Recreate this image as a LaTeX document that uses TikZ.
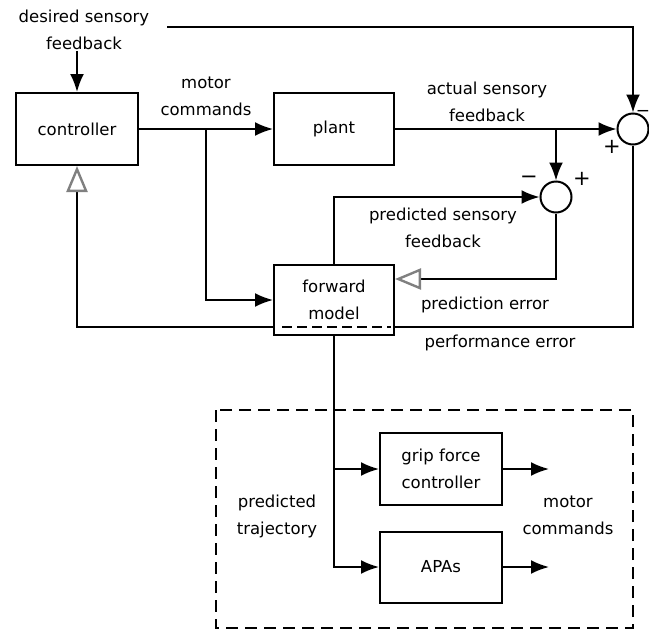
\documentclass[tikz,border=0pt]{standalone}
\usepackage{fontspec}
\setmainfont{DejaVu Sans}
\usetikzlibrary{arrows.meta}

\begin{document}
\begin{tikzpicture}[x=1pt,y=-1pt,line width=2pt,
    font=\fontsize{16.5}{27}\selectfont,
    block/.style={draw,align=center,minimum width=122pt,minimum height=72pt,inner sep=0pt},
    sum/.style={draw,circle,minimum size=31pt,inner sep=0pt},
    lbl/.style={align=center,inner sep=0pt},
    sgn/.style={inner sep=0pt,font=\fontsize{21}{21}\selectfont},
    sig/.style={-{Latex[length=18pt,width=14pt]}},
    err/.style={-{Triangle[open,length=26pt,width=21pt,color=gray,line width=2.4pt]}}]
  \useasboundingbox (0,0) rectangle (649,630);

  % Blocks
  \node[block] (ctrl) at (77,129) {controller};
  \node[block,minimum width=120pt] (plant) at (334,129) {plant};
  \node[block,minimum width=120pt,minimum height=70pt] (fwd) at (334,300) {forward\\model};
  \node[sum] (sumA) at (633,129) {};
  \node[sum] (sumB) at (556,197) {};

  % Helper points
  \coordinate (split) at (206,129);
  \coordinate (tap) at (556,129);
  \coordinate (dstart) at (167,27);
  \path (fwd.east) ++(0,-21) coordinate (prin);
  \path (fwd.east) ++(0,27) coordinate (pein);
  \path (fwd.west) ++(0,27) coordinate (peout);

  % Labels
  \node[lbl] (desired) at (84,30) {desired sensory\\feedback};
  \node[lbl] (mc) at (206,96) {motor\\commands};
  \node[lbl] (actual) at (487,102) {actual sensory\\feedback};
  \node[lbl] (predsf) at (443,228) {predicted sensory\\feedback};
  \node[lbl] (prederr) at (485,305) {prediction error};
  \node[lbl] (perferr) at (500,343) {performance error};
  \node[sgn] (mB) at (529,180) {−};
  \node[sgn] (pB) at (582,179) {+};
  \node[sgn] (pA) at (612,147) {+};
  \node[sgn,font=\fontsize{17}{17}\selectfont] (mA) at (643,113) {−};

  % Main loop
  \draw[sig] (ctrl.north |- desired.south) -- (ctrl.north);
  \draw[sig] (ctrl.east) -- (plant.west);
  \draw[sig] (split) |- (fwd.west);
  \draw[sig] (plant.east) -- (sumA.west);
  \draw[sig] (dstart) -| (sumA.north);
  \draw[sig] (tap) -- (sumB.north);
  \draw[sig] (fwd.north) |- (sumB.west);

  % Error signals
  \draw[err] (sumB.south) |- (prin);
  \draw (sumA.south) |- (pein);
  \draw[err] (peout) -| (ctrl.south);
  \draw[dash pattern=on 10pt off 5pt] ([xshift=9pt]peout) -- ([xshift=-4pt]pein);

  % Predicted trajectory
  \draw[dash pattern=on 12pt off 7pt] (216,410) rectangle (633,628);
  \node[block] (grip) at (441,469) {grip force\\controller};
  \node[block,minimum height=71pt] (apas) at (441,567) {APAs};
  \coordinate (gout) at (549,469);
  \coordinate (aout) at (549,567);
  \draw[sig] (fwd.south) |- (grip.west);
  \draw[sig] (fwd.south) |- (apas.west);
  \draw[sig] (grip.east) -- (gout);
  \draw[sig] (apas.east) -- (aout);
  \node[lbl] (ptraj) at (277,516) {predicted\\trajectory};
  \node[lbl] (mc2) at (568,515) {motor\\commands};
\end{tikzpicture}
\end{document}
